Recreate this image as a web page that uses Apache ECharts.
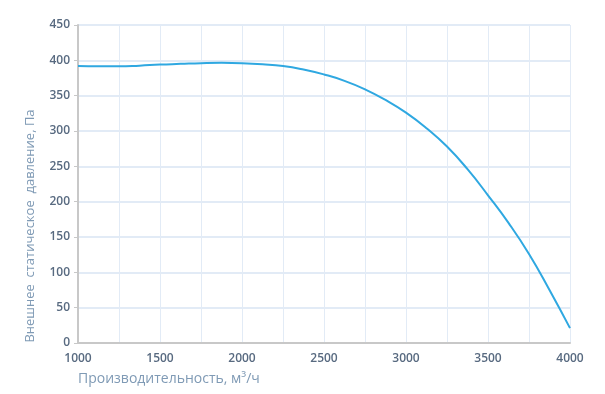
<!DOCTYPE html>
<html><head><meta charset="utf-8">
<script src="https://cdn.jsdelivr.net/npm/echarts@6/dist/echarts.min.js"></script>
<style>html,body{margin:0;padding:0;background:#fff}#c{width:605px;height:394px}</style>
</head><body><div id="c"></div>
<script>
const flow = [1000, 1125, 1250, 1375, 1500, 1625, 1750, 1875, 2000, 2125, 2250, 2375, 2500, 2625, 2750, 2875, 3000, 3125, 3250, 3375, 3500, 3625, 3750, 3875, 4000];
const pressure = [392, 391.5, 391.5, 392.5, 394, 395, 396, 396.5, 396, 394.5, 392, 387, 380, 371, 359, 344, 326, 304, 278, 246, 209, 170, 126, 75, 21];
const xTicks = [1000, 1500, 2000, 2500, 3000, 3500, 4000];
const yTicks = [0, 50, 100, 150, 200, 250, 300, 350, 400, 450];
const xTitle = 'Производительность, м³/ч';
const yTitle = 'Внешнее  статическое  давление, Па';

const chart = echarts.init(document.getElementById('c'));
const font = '"Open Sans", "Noto Sans", sans-serif';
chart.setOption({
  animation: false,
  grid: {left: 78, right: 35, top: 25, bottom: 51},
  xAxis: {
    type: 'value', min: 1000, max: 4000, interval: 250,
    axisLine: {show: true, lineStyle: {color: '#c8c8c8', width: 2}},
    axisTick: {show: false},
    axisLabel: {color: '#586a80', fontFamily: font, fontWeight: 600, fontSize: 12, margin: 10,
      formatter: v => xTicks.includes(v) ? String(v) : ''},
    splitLine: {show: true, lineStyle: {color: '#e2ebf6', width: 1}}
  },
  yAxis: {
    type: 'value', min: 0, max: 450, interval: 50,
    axisLine: {show: true, onZero: false, lineStyle: {color: '#c8c8c8', width: 2}},
    axisTick: {show: true, length: 4, lineStyle: {color: '#c8c8c8'}},
    axisLabel: {color: '#586a80', fontFamily: font, fontWeight: 600, fontSize: 12, margin: 8,
      formatter: v => yTicks.includes(v) ? String(v) : ''},
    splitLine: {show: true, lineStyle: {color: '#e2ebf6', width: 2}}
  },
  graphic: [
    {type: 'text', left: 78, top: 372,
      style: {text: xTitle, fill: '#7f9ab5', font: '14px ' + font}},
    {type: 'text', x: 30, y: 226, rotation: Math.PI / 2,
      style: {text: yTitle, fill: '#7f9ab5', font: '13px ' + font, align: 'center', verticalAlign: 'middle'}}
  ],
  series: [{type: 'line', data: flow.map((x, i) => [x, pressure[i]]), smooth: 0.5,
    showSymbol: false, lineStyle: {color: '#2fa8e1', width: 2}}]
});
</script></body></html>
